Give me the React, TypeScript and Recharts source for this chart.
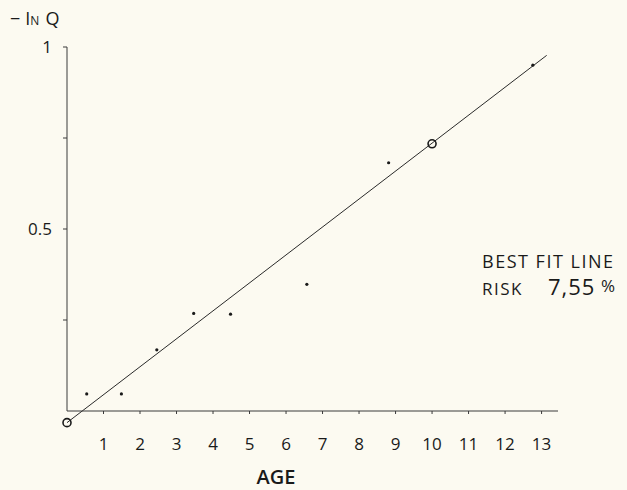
import React from 'react';
import {
  ComposedChart,
  Scatter,
  XAxis,
  YAxis,
  ReferenceLine,
  ReferenceDot,
} from 'recharts';

// observed points (age, -ln Q)
const ages = [0.54, 1.49, 2.46, 3.47, 4.48, 6.57, 8.81, 12.76];
const values = [0.047, 0.047, 0.168, 0.268, 0.266, 0.348, 0.682, 0.95];

// circled points the line was drawn through
const circledAges = [0, 10];
const circledValues = [-0.032, 0.734];

// best fit line end points
const fitAges = [0, 13.14];
const fitValues = [-0.032, 0.977];

const xTicks = [1, 2, 3, 4, 5, 6, 7, 8, 9, 10, 11, 12, 13];
const yTicks = [0.25, 0.5, 0.75, 1];
const yTickLabels: Record<number, string> = { 0.5: '0.5', 1: '1' };

const ink = '#1a1a1a';
const paper = '#fcfaf1';

const points = ages.map((age, i) => ({ age, v: values[i] }));

function Dot({ cx, cy }: any) {
  return <circle cx={cx} cy={cy} r={1.6} fill={ink} />;
}

export default function App() {
  return (
    <div
      style={{
        position: 'absolute',
        left: 0,
        top: 0,
        width: 627,
        height: 490,
        background: paper,
        fontFamily: '"Open Sans", sans-serif',
      }}
    >
      <ComposedChart
        width={627}
        height={490}
        data={points}
        margin={{ top: 47, right: 69, left: 7, bottom: 0 }}
      >
        <XAxis
          type='number'
          dataKey='age'
          domain={[0, 13.45]}
          ticks={xTicks}
          allowDataOverflow
          height={79}
          axisLine={{ stroke: '#3a3a3a' }}
          tickLine={{ stroke: '#3a3a3a' }}
          tickSize={3}
          tickMargin={24}
          tick={{ fill: ink, fontSize: 17, fontWeight: 500 }}
        />
        <YAxis
          type='number'
          domain={[0, 1]}
          ticks={yTicks}
          allowDataOverflow
          width={60}
          axisLine={{ stroke: '#3a3a3a' }}
          tickLine={{ stroke: '#3a3a3a' }}
          tickSize={4}
          tickMargin={11}
          tickFormatter={(v: number) => yTickLabels[v] ?? ''}
          tick={{ fill: ink, fontSize: 17, fontWeight: 500 }}
        />
        <ReferenceLine
          segment={[
            { x: fitAges[0], y: fitValues[0] },
            { x: fitAges[1], y: fitValues[1] },
          ]}
          stroke='#2a2a2a'
          strokeWidth={1}
          ifOverflow='visible'
        />
        {circledAges.map((a, i) => (
          <ReferenceDot
            key={a}
            x={a}
            y={circledValues[i]}
            r={4}
            fill='none'
            stroke={ink}
            strokeWidth={1.6}
            ifOverflow='visible'
          />
        ))}
        <Scatter dataKey='v' shape={<Dot />} isAnimationActive={false} />
      </ComposedChart>

      <svg
        width={627}
        height={490}
        style={{ position: 'absolute', left: 0, top: 0, pointerEvents: 'none' }}
      >
        <text x={10} y={25} fontSize={18} fontWeight={500} fill={ink}>
          <tspan>−</tspan>
          <tspan dx={5}>I</tspan>
          <tspan fontSize={12}>N</tspan>
          <tspan dx={6}>Q</tspan>
        </text>
        <text x={276} y={484} fontSize={20} fontWeight={600} fill={ink} textAnchor='middle'>
          AGE
        </text>
        <text x={482} y={268} fontSize={18} fontWeight={500} fill={ink} letterSpacing={1.5}>
          BEST FIT LINE
        </text>
        <text x={482} y={295} fontSize={17} fontWeight={500} fill={ink} letterSpacing={1.5}>
          RISK
        </text>
        <text x={548} y={295} fontSize={22} fontWeight={500} fill={ink} letterSpacing={1}>
          7,55
        </text>
        <text x={601} y={292} fontSize={17} fontWeight={500} fill={ink}>
          %
        </text>
      </svg>
    </div>
  );
}
